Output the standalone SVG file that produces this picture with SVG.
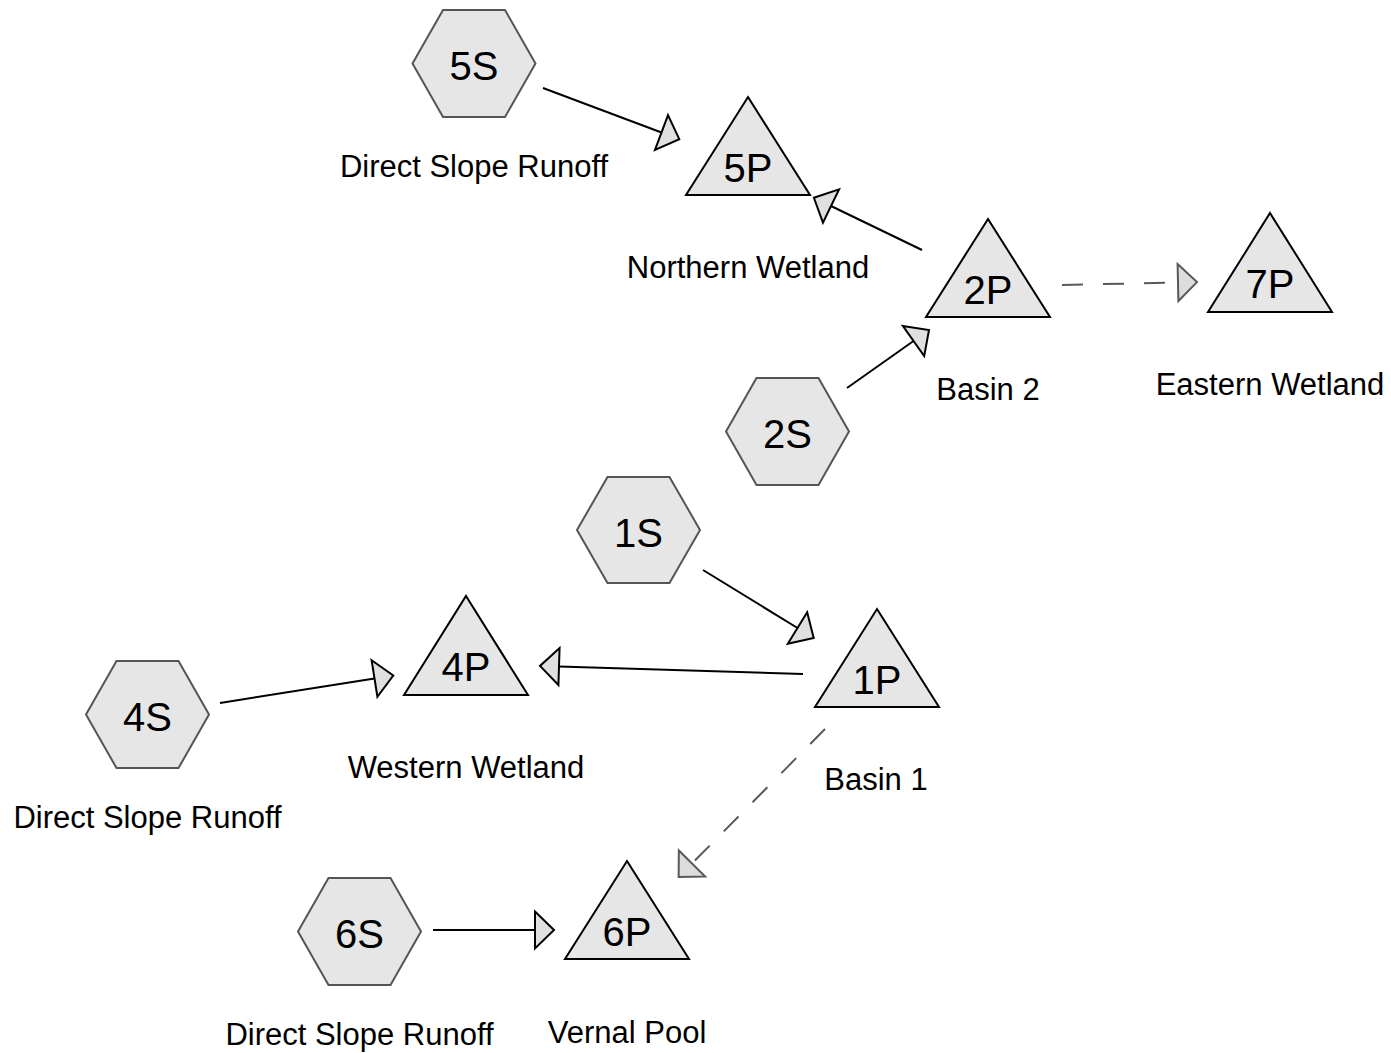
<svg xmlns="http://www.w3.org/2000/svg" width="1391" height="1053" viewBox="0 0 1391 1053">
<style>
  .hex { fill: #e6e6e6; stroke: #555555; stroke-width: 2; }
  .tri { fill: #e6e6e6; stroke: #000000; stroke-width: 2; stroke-linejoin: miter; }
  .nt { font-family: "Liberation Sans", Arial, sans-serif; font-size: 40px; fill: #000; text-anchor: middle; }
  .cap { font-family: "Liberation Sans", Arial, sans-serif; font-size: 31px; fill: #000; text-anchor: middle; }
  .edge { fill: none; stroke: #000000; stroke-width: 2; }
  .dash { fill: none; stroke: #595959; stroke-width: 2; stroke-dasharray: 21 20; }
</style>
<defs>
  <marker id="arr" markerUnits="userSpaceOnUse" viewBox="-2 -21 24 42" markerWidth="24" markerHeight="42" refX="0" refY="0" orient="auto">
    <path d="M0,-18.5 L19,0 L0,18.5 Z" fill="#e0e0e0" stroke="#000" stroke-width="2" stroke-linejoin="miter"/>
  </marker>
  <marker id="arrg" markerUnits="userSpaceOnUse" viewBox="-2 -21 24 42" markerWidth="24" markerHeight="42" refX="0" refY="0" orient="auto">
    <path d="M0,-18.5 L19,0 L0,18.5 Z" fill="#dddddd" stroke="#595959" stroke-width="2" stroke-linejoin="miter"/>
  </marker>
</defs>
<rect x="0" y="0" width="1391" height="1053" fill="#ffffff"/>

<g id="connectors">
  <line class="edge" x1="543" y1="88" x2="661.5" y2="132.5" marker-end="url(#arr)"/>
  <line class="edge" x1="922" y1="250" x2="831" y2="206" marker-end="url(#arr)"/>
  <line class="edge" x1="847" y1="388" x2="913.5" y2="341" marker-end="url(#arr)"/>
  <line class="dash" x1="1062" y1="285" x2="1178" y2="282.5" marker-end="url(#arrg)"/>
  <line class="edge" x1="703" y1="570" x2="797.5" y2="628" marker-end="url(#arr)"/>
  <line class="edge" x1="803" y1="674" x2="559" y2="666.5" marker-end="url(#arr)"/>
  <line class="dash" x1="825" y1="729" x2="692" y2="863.5" marker-end="url(#arrg)"/>
  <line class="edge" x1="220" y1="703" x2="374.5" y2="678.5" marker-end="url(#arr)"/>
  <line class="edge" x1="433" y1="930" x2="535" y2="930" marker-end="url(#arr)"/>
</g>

<g id="node-5S">
  <polygon class="hex" points="412.5,63.5 443,10 505,10 535.5,63.5 505,117 443,117"/>
  <text class="nt" x="474" y="80">5S</text>
  <text class="cap" x="474" y="177">Direct Slope Runoff</text>
</g>
<g id="node-5P">
  <polygon class="tri" points="748,97 810,195 686,195"/>
  <text class="nt" x="748" y="182">5P</text>
  <text class="cap" x="748" y="278">Northern Wetland</text>
</g>
<g id="node-2P">
  <polygon class="tri" points="988,219 1050,317 926,317"/>
  <text class="nt" x="988" y="304">2P</text>
  <text class="cap" x="988" y="400">Basin 2</text>
</g>
<g id="node-7P">
  <polygon class="tri" points="1270,213 1332,312 1208,312"/>
  <text class="nt" x="1270" y="298">7P</text>
  <text class="cap" x="1270" y="395">Eastern Wetland</text>
</g>
<g id="node-2S">
  <polygon class="hex" points="726,431.5 756.5,378 818.5,378 849,431.5 818.5,485 756.5,485"/>
  <text class="nt" x="787.5" y="448">2S</text>
</g>
<g id="node-1S">
  <polygon class="hex" points="577,530 607.5,477 669.5,477 700,530 669.5,583 607.5,583"/>
  <text class="nt" x="638.5" y="547">1S</text>
</g>
<g id="node-1P">
  <polygon class="tri" points="877,609 939,707 815,707"/>
  <text class="nt" x="877" y="694">1P</text>
  <text class="cap" x="876" y="790">Basin 1</text>
</g>
<g id="node-4P">
  <polygon class="tri" points="466,596 528,695 404,695"/>
  <text class="nt" x="466" y="681">4P</text>
  <text class="cap" x="466" y="778">Western Wetland</text>
</g>
<g id="node-4S">
  <polygon class="hex" points="86,714.5 116.5,661 178.5,661 209,714.5 178.5,768 116.5,768"/>
  <text class="nt" x="147.5" y="731">4S</text>
  <text class="cap" x="147.5" y="828">Direct Slope Runoff</text>
</g>
<g id="node-6S">
  <polygon class="hex" points="298,931.5 328.5,878 390.5,878 421,931.5 390.5,985 328.5,985"/>
  <text class="nt" x="359.5" y="948">6S</text>
  <text class="cap" x="359.5" y="1045">Direct Slope Runoff</text>
</g>
<g id="node-6P">
  <polygon class="tri" points="627,861 689,959 565,959"/>
  <text class="nt" x="627" y="946">6P</text>
  <text class="cap" x="627" y="1043">Vernal Pool</text>
</g>
</svg>
